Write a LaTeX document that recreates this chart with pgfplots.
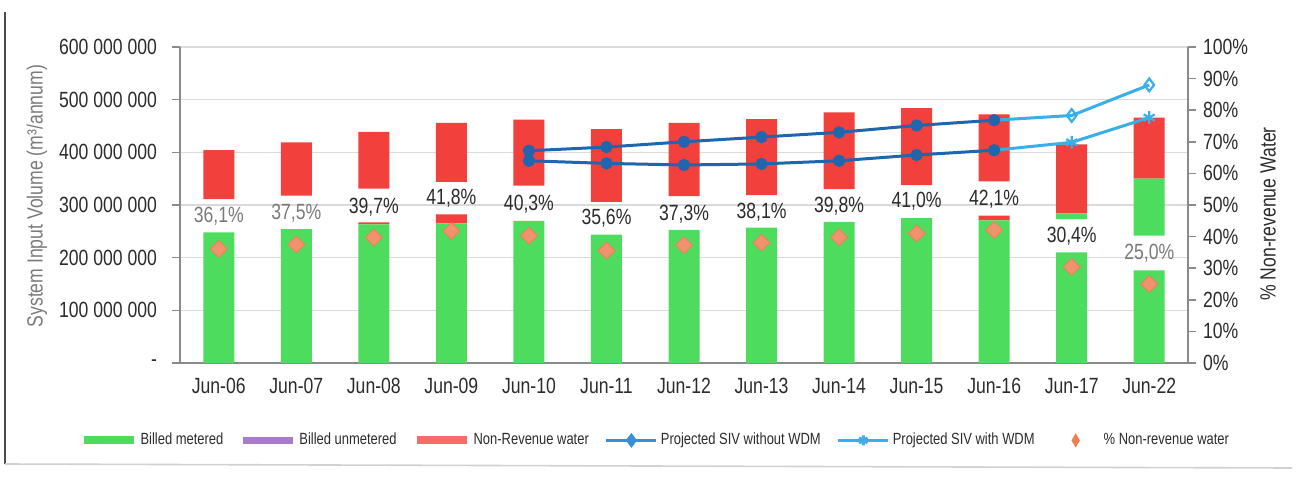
\documentclass[border=0pt]{standalone}
\usepackage{pgfplots}
\pgfplotsset{compat=1.18}
\usepackage{pgfplotstable}
\usepackage{fontspec}
\setmainfont{Liberation Sans}[FakeStretch=0.8]

\definecolor{bgreen}{HTML}{4EDC5E}
\definecolor{bred}{HTML}{F2403C}
\definecolor{bpurple}{HTML}{A97BC8}
\definecolor{lred}{HTML}{F46B68}
\definecolor{dblue}{HTML}{1F66AE}
\definecolor{mblue}{HTML}{3A8ED8}
\definecolor{lblue}{HTML}{3AAEE6}
\definecolor{dor}{HTML}{EE7F55}
\definecolor{gridc}{HTML}{DADADA}
\definecolor{axc}{HTML}{8A8A8A}
\definecolor{txt}{HTML}{2B2B2B}
\definecolor{labg}{HTML}{7A7A7A}

\pgfplotstableread{
x g1 r1 gap g2 r2
0 248 0 63 0 93
1 254 0 64 0 101
2 263 4 64 0 108
3 265 17 62 0 112
4 270 0 67 0 125
5 244 0 62 0 138
6 253 0 64 0 139
7 257 0 62 0 144
8 268 0 62 0 146
9 275 0 63 0 146
10 271 9 65 0 127
11 210 0 63 11 131
12 176 0 66 108 116
}\bars

\pgfplotstableread{
x without with
4 403 384
5 410 379
6 420 376
7 429 378
8 438 384
9 451 395
10 461 404
}\projA

\pgfplotstableread{
x without with
10 461 404
11 470 419
12 528 466
}\projB

\pgfplotstableread{
x p
0 36.1
1 37.5
2 39.7
3 41.8
4 40.3
5 35.6
6 37.3
7 38.1
8 39.8
9 41.0
10 42.1
11 30.4
12 25.0
}\nrw

\begin{document}
\begin{tikzpicture}
\path[use as bounding box] (0pt,0pt) rectangle (648.5pt,-238.5pt);
\draw[black!70, line width=0.7pt] (2.5pt,-6pt) -- (2.5pt,-232pt);
\draw[black!18, line width=0.8pt] (2.5pt,-232pt) -- (646pt,-234pt);

\pgfplotsset{
  common/.style={
    at={(90pt,-181.5pt)}, anchor=south west, scale only axis,
    width=504pt, height=158pt, xmin=-0.5, xmax=12.5,
  },
}

% Bars, left axis, grid
\begin{axis}[common,
  ymin=0, ymax=600,
  ybar stacked, bar width=15.5pt,
  axis y line*=left, axis x line*=bottom,
  xtick={0,...,12},
  xticklabels={Jun-06,Jun-07,Jun-08,Jun-09,Jun-10,Jun-11,Jun-12,Jun-13,Jun-14,Jun-15,Jun-16,Jun-17,Jun-22},
  ytick={0,100,...,600},
  yticklabels={-,100 000 000,200 000 000,300 000 000,400 000 000,500 000 000,600 000 000},
  ymajorgrids, grid style={gridc, line width=0.8pt},
  axis line style={axc, line width=0.8pt},
  tick style={axc, line width=0.8pt}, major tick length=4pt, tick align=outside,
  xtick style={draw=none},
  ticklabel style={font=\fontsize{11pt}{13pt}\selectfont, text=txt},
  yticklabel style={xshift=-4pt},
  ylabel={System Input Volume (m³/annum)},
  ylabel style={at={(rel axis cs:-0.142,0.528)}, anchor=center, font=\fontsize{11pt}{13pt}\selectfont, text=labg},
]
\addplot[fill=bgreen, draw=none, forget plot] table[x=x,y=g1]{\bars};
\addplot[fill=bred, draw=none, forget plot] table[x=x,y=r1]{\bars};
\addplot[fill=none, draw=none, forget plot] table[x=x,y=gap]{\bars};
\addplot[fill=bgreen, draw=none, forget plot] table[x=x,y=g2]{\bars};
\addplot[fill=bred, draw=none, forget plot] table[x=x,y=r2]{\bars};
\end{axis}

% Projected SIV lines (left scale) + legend
\begin{axis}[common, ymin=0, ymax=600, axis lines=none, xtick=\empty, ytick=\empty, clip=false,
  legend image code/.code={\path[draw=none] (0pt,0pt) -- (25pt,0pt);\draw[mark repeat=2,mark phase=2,#1] plot coordinates {(0pt,0pt) (12.5pt,0pt) (25pt,0pt)};},
  legend columns=6,
  legend cell align=left,
  legend style={at={(0.472,-0.245)}, anchor=center, draw=none, fill=none,
    font=\fontsize{8.1pt}{10pt}\selectfont, text=txt,
    /tikz/every even column/.append style={column sep=6.5pt},
    nodes={inner sep=1.5pt}},
]
\addlegendimage{bgreen, line width=4pt, mark=none}
\addlegendentry{Billed metered}
\addlegendimage{bpurple, line width=3.5pt, mark=none}
\addlegendentry{Billed unmetered}
\addlegendimage{lred, line width=4pt, mark=none}
\addlegendentry{Non-Revenue water}
\addlegendimage{mblue, line width=1.5pt, mark=diamond*, mark size=2.5pt}
\addlegendentry{Projected SIV without WDM}
\addlegendimage{lblue, line width=1.5pt, mark=asterisk, mark size=2.5pt}
\addlegendentry{Projected SIV with WDM}
\addlegendimage{legend image code/.code={\path[draw=none] (0pt,0pt) -- (25pt,0pt);
  \fill[dor, draw=none] (12.5pt,3.6pt) -- (14.6pt,0pt) -- (12.5pt,-3.6pt) -- (10.4pt,0pt) -- cycle;}}
\addlegendentry{\% Non-revenue water}

\addplot[dblue, line width=1.5pt, mark=*, mark size=2.3pt, forget plot] table[x=x,y=without]{\projA};
\addplot[dblue, line width=1.5pt, mark=*, mark size=2.3pt, forget plot] table[x=x,y=with]{\projA};
\addplot[lblue, line width=1.5pt, mark=diamond, mark size=3.2pt, mark indices={2,3},
  mark options={fill=white, line width=1.1pt}, forget plot] table[x=x,y=without]{\projB};
\addplot[lblue, line width=1.5pt, mark=asterisk, mark size=3.2pt, mark indices={2,3},
  mark options={line width=1.1pt}, forget plot] table[x=x,y=with]{\projB};
\end{axis}

% Right axis, NRW markers and labels
\begin{axis}[common,
  ymin=0, ymax=100,
  axis y line*=right, axis x line=none,
  ytick={0,10,...,100},
  yticklabels={0\%,10\%,20\%,30\%,40\%,50\%,60\%,70\%,80\%,90\%,100\%},
  axis line style={axc, line width=0.8pt},
  tick style={axc, line width=0.8pt}, major tick length=4pt, tick align=outside,
  ticklabel style={font=\fontsize{11pt}{13pt}\selectfont, text=txt},
  ylabel={\% Non-revenue Water},
  ylabel style={at={(rel axis cs:1.0794,0.4715)}, anchor=center, font=\fontsize{11pt}{13pt}\selectfont, text=txt},
  clip=false,
]
\addplot[only marks, mark=square*, mark size=3pt, mark options={rotate=45, fill=dor!85!white, draw=dor}] table[x=x,y=p]{\nrw};
\addplot[only marks, mark=none, nodes near coords, point meta=explicit symbolic,
  nodes near coords style={anchor=center, font=\fontsize{11pt}{13pt}\selectfont, text=txt}]
  coordinates {
  (0,46.5) [\textcolor{labg}{36,1\%}]
  (1,47.3) [\textcolor{labg}{37,5\%}]
  (2,49.3) [39,7\%]
  (3,52.0) [41,8\%]
  (4,50.2) [40,3\%]
  (5,45.7) [35,6\%]
  (6,47.2) [37,3\%]
  (7,47.8) [38,1\%]
  (8,49.7) [39,8\%]
  (9,51.2) [41,0\%]
  (10,51.8) [42,1\%]
  (11,40.0) [30,4\%]
  (12,34.7) [\textcolor{labg}{25,0\%}]
  };
\end{axis}
\end{tikzpicture}
\end{document}
